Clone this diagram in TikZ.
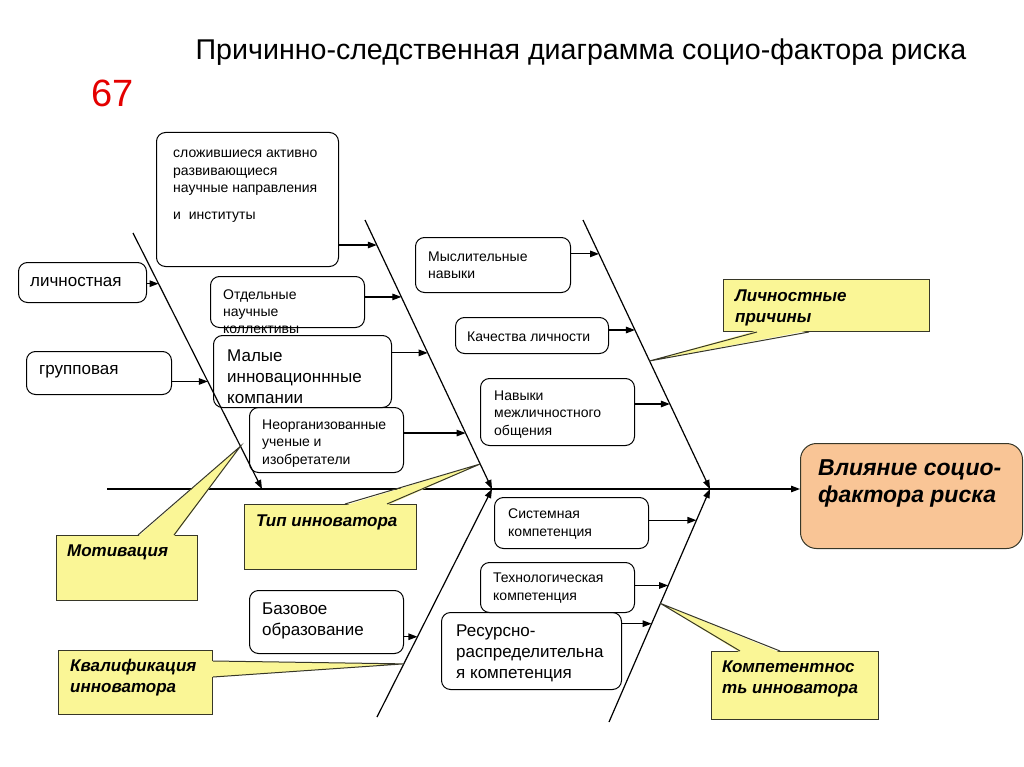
\documentclass[tikz,border=0pt]{standalone}
\usepackage{fontspec}
\setmainfont{Liberation Sans}
\usetikzlibrary{arrows.meta,calc}
\definecolor{cyell}{RGB}{250,246,150}
\definecolor{corange}{RGB}{249,197,150}
\definecolor{cedge}{RGB}{55,55,40}
\definecolor{cred}{RGB}{228,0,0}
\begin{document}
\begin{tikzpicture}[x=1pt,y=-1pt,
  wbox/.style={draw=black, line width=1pt, rounded corners=9pt, anchor=north west, inner sep=0pt},
  callbox/.style={draw=cedge, fill=cyell, line width=1pt, anchor=north west, inner sep=0pt},
  effbox/.style={draw=cedge, fill=corange, line width=1pt, rounded corners=16pt, anchor=north west, inner sep=0pt},
  ptrfill/.style={fill=cyell},
  ptrline/.style={draw=cedge, line width=1pt, line join=miter},
  txt/.style={anchor=west, align=left, inner sep=0pt, yshift=-1.5pt},
  ts/.style={txt, font=\fontsize{14}{17.3}\selectfont},
  tm/.style={txt, font=\fontsize{17}{21}\selectfont},
  tl/.style={txt, font=\fontsize{17}{20}\selectfont},
  tc/.style={txt, font=\bfseries\itshape\fontsize{17}{21}\selectfont},
  te/.style={txt, font=\bfseries\itshape\fontsize{23}{27}\selectfont},
  arr/.style={line width=1.2pt, -{Triangle[length=9pt,width=6.5pt]}}
]
\useasboundingbox (0,0) rectangle (1024,767);

% title
\node[inner sep=0pt, font=\fontsize{28.6}{34}\selectfont] (title) at (581,52) {Причинно-следственная диаграмма социо-фактора риска};
\node[inner sep=0pt, text=cred, font=\fontsize{38}{44}\selectfont] (num) at (113,93) {67};

% skeleton coordinates
\coordinate (S0) at (107,489);
\coordinate (B1s) at (133,233); \coordinate (B1e) at (262,489);
\coordinate (B2s) at (365,220); \coordinate (B2e) at (492,489);
\coordinate (B3s) at (583,220); \coordinate (B3e) at (710,489);
\coordinate (B4s) at (377,717); \coordinate (B4e) at (492,489);
\coordinate (B5s) at (609,722); \coordinate (B5e) at (710,489);

% effect box
\node[effbox, minimum width=222pt, minimum height=105pt] (eff) at (800,443) {};
\node[te] (efft) at (818,482) {Влияние социо-\\фактора риска};

% spine and bones
\draw[arr] (S0) -- (eff.west |- S0);
\draw[arr] (B1s) -- (B1e);
\draw[arr] (B2s) -- (B2e);
\draw[arr] (B3s) -- (B3e);
\draw[arr] (B4s) -- (B4e);
\draw[arr] (B5s) -- (B5e);

% attachment points
\coordinate (Pl) at ($(B1s)!0.198!(B1e)$);
\coordinate (Pg) at ($(B1s)!0.58!(B1e)$);
\coordinate (P1) at ($(B2s)!0.093!(B2e)$);
\coordinate (Po) at ($(B2s)!0.286!(B2e)$);
\coordinate (Pm) at ($(B2s)!0.494!(B2e)$);
\coordinate (Pn) at ($(B2s)!0.792!(B2e)$);
\coordinate (Py) at ($(B3s)!0.126!(B3e)$);
\coordinate (Pk) at ($(B3s)!0.409!(B3e)$);
\coordinate (Pv) at ($(B3s)!0.684!(B3e)$);
\coordinate (Ps) at ($(B5s)!0.866!(B5e)$);
\coordinate (Pt) at ($(B5s)!0.586!(B5e)$);
\coordinate (Pr) at ($(B5s)!0.422!(B5e)$);
\coordinate (Pb) at ($(B4s)!0.352!(B4e)$);
% callout tips
\coordinate (Tlp) at ($(B3s)!0.524!(B3e)$);
\coordinate (Ttip) at ($(B2s)!0.907!(B2e)$);
\coordinate (Tmot) at ($(B1s)!0.833!(B1e)$);
\coordinate (Tkv) at ($(B4s)!0.233!(B4e)$);
\coordinate (Tko) at ($(B5s)!0.509!(B5e)$);

% boxes
\node[wbox, minimum width=182pt, minimum height=134pt] (b1) at (156,132) {};
\node[ts] (b1t) at (173,185) {сложившиеся активно\\развивающиеся\\научные направления\\[10pt]и~ институты};
\draw[arr] (b1.east |- P1) -- (P1);

\node[wbox, minimum width=128pt, minimum height=40pt] (bl) at (18,262) {};
\node[tl] (blt) at (30,281) {личностная};
\draw[arr] (bl.east |- Pl) -- (Pl);

\node[wbox, minimum width=145pt, minimum height=43pt] (bg) at (26,351) {};
\node[tl] (bgt) at (39,370) {групповая};
\draw[arr] (bg.east |- Pg) -- (Pg);

\node[wbox, minimum width=154pt, minimum height=51pt] (bo) at (210,276) {};
\node[ts] (bot) at (223,310) {Отдельные\\научные\\коллективы};
\draw[arr] (bo.east |- Po) -- (Po);

\node[wbox, minimum width=178pt, minimum height=72pt] (bm) at (213,335) {};
\node[tm] (bmt) at (227,375) {Малые\\инновационнные\\компании};
\draw[arr] (bm.east |- Pm) -- (Pm);

\node[wbox, minimum width=154pt, minimum height=65pt] (bn) at (249,407) {};
\node[ts] (bnt) at (262,442) {Неорганизованные\\ученые и\\изобретатели};
\draw[arr] (bn.east |- Pn) -- (Pn);

\node[wbox, minimum width=155pt, minimum height=55pt] (by) at (415,237) {};
\node[ts] (byt) at (428,263.5) {Мыслительные\\навыки};
\draw[arr] (by.east |- Py) -- (Py);

\node[wbox, minimum width=153pt, minimum height=36pt] (bk) at (455,317) {};
\node[ts] (bkt) at (467,335) {Качества личности};
\draw[arr] (bk.east |- Pk) -- (Pk);

\node[wbox, minimum width=154pt, minimum height=67pt] (bv) at (480,378) {};
\node[ts] (bvt) at (494,413) {Навыки\\межличностного\\общения};
\draw[arr] (bv.east |- Pv) -- (Pv);

\node[wbox, minimum width=154pt, minimum height=51pt] (bs) at (494,497) {};
\node[ts] (bst) at (508,522.5) {Системная\\компетенция};
\draw[arr] (bs.east |- Ps) -- (Ps);

\node[wbox, minimum width=154pt, minimum height=50pt] (bt) at (480,562) {};
\node[ts] (btt) at (493,586.5) {Технологическая\\компетенция};
\draw[arr] (bt.east |- Pt) -- (Pt);

\node[wbox, minimum width=180pt, minimum height=77pt] (br) at (441,612) {};
\node[tm] (brt) at (456,652) {Ресурсно-\\распределительна\\я компетенция};
\draw[arr] (br.east |- Pr) -- (Pr);

\node[wbox, minimum width=154pt, minimum height=63pt] (bb) at (249,590) {};
\node[tm] (bbt) at (262,619.5) {Базовое\\образование};
\draw[arr] (bb.east |- Pb) -- (Pb);

% callouts
\node[callbox, minimum width=206pt, minimum height=52pt] (clp) at (723,279) {};
\fill[ptrfill] ($(clp.south west)+(34,-1.5)$) -- (Tlp) -- ($(clp.south west)+(86,-1.5)$) -- cycle;
\draw[ptrline] ($(clp.south west)+(34,0)$) -- (Tlp) -- ($(clp.south west)+(86,0)$);
\node[tc] (clpt) at (735,306) {Личностные\\причины};

\node[callbox, minimum width=172pt, minimum height=65pt] (ctip) at (244,504) {};
\fill[ptrfill] ($(ctip.north west)+(101,1.5)$) -- (Ttip) -- ($(ctip.north west)+(143,1.5)$) -- cycle;
\draw[ptrline] ($(ctip.north west)+(101,0)$) -- (Ttip) -- ($(ctip.north west)+(143,0)$);
\node[tc] (ctipt) at (256,521) {Тип инноватора};

\node[callbox, minimum width=141pt, minimum height=65pt] (cmot) at (56,535) {};
\fill[ptrfill] ($(cmot.north west)+(82,1.5)$) -- (Tmot) -- ($(cmot.north west)+(118,1.5)$) -- cycle;
\draw[ptrline] ($(cmot.north west)+(82,0)$) -- (Tmot) -- ($(cmot.north west)+(118,0)$);
\node[tc] (cmott) at (67,551) {Мотивация};

\node[callbox, minimum width=154pt, minimum height=64pt] (ckv) at (58,650) {};
\fill[ptrfill] ($(ckv.north east)+(-1.5,11)$) -- (Tkv) -- ($(ckv.north east)+(-1.5,27)$) -- cycle;
\draw[ptrline] ($(ckv.north east)+(0,11)$) -- (Tkv) -- ($(ckv.north east)+(0,27)$);
\node[tc] (ckvt) at (70,676.5) {Квалификация\\инноватора};

\node[callbox, minimum width=167pt, minimum height=68pt] (cko) at (711,651) {};
\fill[ptrfill] ($(cko.north west)+(29,1.5)$) -- (Tko) -- ($(cko.north west)+(69,1.5)$) -- cycle;
\draw[ptrline] ($(cko.north west)+(29,0)$) -- (Tko) -- ($(cko.north west)+(69,0)$);
\node[tc] (ckot) at (722,677.5) {Компетентнос\\ть инноватора};

\end{tikzpicture}
\end{document}
